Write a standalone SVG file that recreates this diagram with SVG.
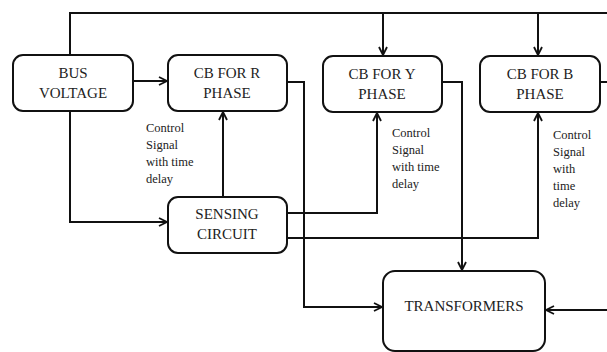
<svg xmlns="http://www.w3.org/2000/svg" width="607" height="352" viewBox="0 0 607 352">
<style>
.box{fill:#fff;stroke:#111;stroke-width:2}
.c{fill:none;stroke:#111;stroke-width:2}
.t{font-family:"Liberation Serif","Times New Roman",serif;font-size:15px;fill:#222;text-anchor:middle}
.s{font-family:"Liberation Serif","Times New Roman",serif;font-size:12.5px;fill:#222}
</style>
<defs>
<marker id="a" viewBox="0 0 10 10" refX="9" refY="5" markerWidth="10" markerHeight="10" markerUnits="userSpaceOnUse" orient="auto">
<path d="M1,1 L9,5 L1,9" fill="none" stroke="#111" stroke-width="1.8"/>
</marker>
</defs>
<rect width="607" height="352" fill="#fff"/>
<g id="connectors">
<polyline class="c" points="70,55 70,13 607,13"/>
<line class="c" x1="383" y1="13" x2="383" y2="55" marker-end="url(#a)"/>
<line class="c" x1="538" y1="13" x2="538" y2="55" marker-end="url(#a)"/>
<line class="c" x1="133" y1="81" x2="167" y2="81" marker-end="url(#a)"/>
<polyline class="c" points="70,111 70,222 167,222" marker-end="url(#a)"/>
<line class="c" x1="223" y1="197" x2="223" y2="112" marker-end="url(#a)"/>
<polyline class="c" points="287,213 377,213 377,113" marker-end="url(#a)"/>
<polyline class="c" points="287,238 538,238 538,113" marker-end="url(#a)"/>
<polyline class="c" points="287,82 304,82 304,307 382,307" marker-end="url(#a)"/>
<polyline class="c" points="442,82 462,82 462,270" marker-end="url(#a)"/>
<line class="c" x1="600" y1="82" x2="607" y2="82"/>
<line class="c" x1="607" y1="310" x2="546" y2="310" marker-end="url(#a)"/>
</g>
<g id="bus">
<rect class="box" x="13" y="55" width="120" height="56" rx="10"/>
<text class="t" x="73" y="78">BUS</text>
<text class="t" x="73" y="98">VOLTAGE</text>
</g>
<g id="cbr">
<rect class="box" x="168" y="55" width="119" height="56" rx="10"/>
<text class="t" x="227" y="78">CB FOR R</text>
<text class="t" x="227" y="98">PHASE</text>
</g>
<g id="cby">
<rect class="box" x="323" y="56" width="119" height="56" rx="10"/>
<text class="t" x="382" y="79">CB FOR Y</text>
<text class="t" x="382" y="99">PHASE</text>
</g>
<g id="cbb">
<rect class="box" x="480" y="56" width="120" height="56" rx="10"/>
<text class="t" x="540" y="79">CB FOR B</text>
<text class="t" x="540" y="99">PHASE</text>
</g>
<g id="sensing">
<rect class="box" x="168" y="197" width="119" height="56" rx="10"/>
<text class="t" x="227" y="219">SENSING</text>
<text class="t" x="227" y="239">CIRCUIT</text>
</g>
<g id="transformers">
<rect class="box" x="383" y="271" width="162" height="80" rx="12"/>
<text class="t" x="464" y="311">TRANSFORMERS</text>
</g>
<g id="labels">
<text class="s" x="146" y="132">Control</text>
<text class="s" x="146" y="149">Signal</text>
<text class="s" x="146" y="166">with time</text>
<text class="s" x="146" y="183">delay</text>
<text class="s" x="392" y="137">Control</text>
<text class="s" x="392" y="154">Signal</text>
<text class="s" x="392" y="171">with time</text>
<text class="s" x="392" y="188">delay</text>
<text class="s" x="553" y="139">Control</text>
<text class="s" x="553" y="156">Signal</text>
<text class="s" x="553" y="173">with</text>
<text class="s" x="553" y="190">time</text>
<text class="s" x="553" y="207">delay</text>
</g>
</svg>
